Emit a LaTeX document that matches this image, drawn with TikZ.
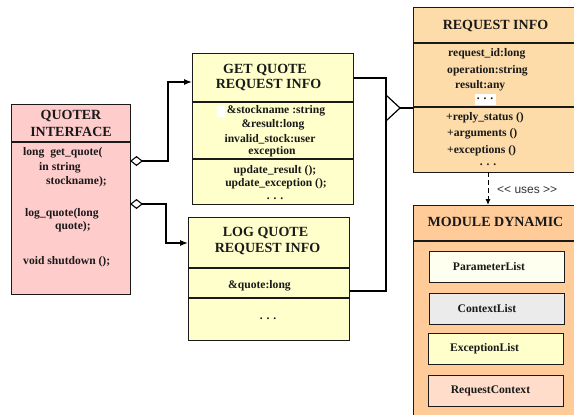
\documentclass[tikz,border=0pt]{standalone}
\usepackage{fontspec}
\setmainfont{Liberation Serif}
\newfontfamily\labelsans{Liberation Sans}
\usetikzlibrary{arrows.meta}
\definecolor{ifacepink}{HTML}{FFCCCC}
\definecolor{reqyellow}{HTML}{FFFFCC}
\definecolor{infoorange}{HTML}{FDDCAA}
\definecolor{modorange}{HTML}{FFCC99}
\definecolor{paramfill}{HTML}{FFFFF0}
\definecolor{ctxfill}{HTML}{EBEBEB}
\definecolor{excfill}{HTML}{FFFFCC}
\definecolor{rctxfill}{HTML}{FFDDCA}
\definecolor{edge}{HTML}{1A1A1A}
\definecolor{usesgray}{HTML}{333333}
\begin{document}
\begin{tikzpicture}[x=1pt,y=-1pt,
  classbox/.style={draw=edge, line width=1.1pt, anchor=north west, inner sep=0pt},
  innerbox/.style={draw=edge, line width=1pt, anchor=north west, inner sep=0pt,
    minimum width=135pt, minimum height=31pt},
  divider/.style={draw=edge, line width=1.1pt},
  head/.style={font=\fontsize{14}{16}\selectfont\bfseries, inner sep=0pt, text=black!90},
  txt/.style={font=\fontsize{11.6}{13}\selectfont\bfseries, inner sep=0pt, text=black!90},
  wire/.style={draw=black, line width=1.2pt},
  agg/.style={wire, {Diamond[open,length=13pt,width=10pt,line width=1.1pt]}-{Latex[length=8pt,width=6pt]}},
  uses/.style={wire, line width=1pt, dash pattern=on 5pt off 3pt, -{Latex[length=6pt,width=5pt]}}
]
\useasboundingbox (0,0) rectangle (574,415);

% ---------- QUOTER INTERFACE ----------
\node[classbox, fill=ifacepink, minimum width=119pt, minimum height=190pt] (quoter) at (11,104) {};
\draw[divider] (quoter.west |- 0,142) -- (quoter.east |- 0,142);
\node[head] (qh1) at (71,116) {QUOTER};
\node[head] (qh2) at (71,132) {INTERFACE};
\node[txt, anchor=west] (qm1) at (23,153) {long\ \ get\_quote(};
\node[txt, anchor=west] (qm2) at (39,168) {in string};
\node[txt, anchor=west] (qm3) at (46,182) {stockname);};
\node[txt, anchor=west] (qm4) at (25,214) {log\_quote(long};
\node[txt, anchor=west] (qm5) at (55,227) {quote);};
\node[txt, anchor=west] (qm6) at (23,262) {void shutdown ();};

% ---------- GET QUOTE REQUEST INFO ----------
\node[classbox, fill=reqyellow, minimum width=161pt, minimum height=151pt] (getq) at (192,53) {};
\draw[divider] (getq.west |- 0,102) -- (getq.east |- 0,102);
\draw[divider] (getq.west |- 0,159) -- (getq.east |- 0,159);
\node[head] (gh1) at (265,70) {GET QUOTE};
\node[head] (gh2) at (268.5,85) {REQUEST INFO};
\fill[white] (217,106) rectangle (225,117);
\node[txt] (ga1) at (276,111) {\&stockname :string};
\node[txt] (ga2) at (273,125) {\&result:long};
\node[txt] (ga3) at (270,139) {invalid\_stock:user};
\node[txt] (ga4) at (272,152) {exception};
\node[txt] (go1) at (275,170.5) {update\_result ();};
\node[txt] (go2) at (276,184) {update\_exception ();};
\node[txt] (go3) at (275,199) {. . .};

% ---------- LOG QUOTE REQUEST INFO ----------
\node[classbox, fill=reqyellow, minimum width=161pt, minimum height=123pt] (logq) at (188,217) {};
\draw[divider] (logq.west |- 0,268) -- (logq.east |- 0,268);
\draw[divider] (logq.west |- 0,298) -- (logq.east |- 0,298);
\node[head] (lh1) at (265.5,233) {LOG QUOTE};
\node[head] (lh2) at (267.5,249) {REQUEST INFO};
\node[txt] (la1) at (259.5,286) {\&quote:long};
\node[txt] (lo1) at (268,319) {. . .};

% ---------- REQUEST INFO ----------
\node[classbox, fill=infoorange, minimum width=165pt, minimum height=165pt] (reqi) at (413,7) {};
\draw[divider] (reqi.west |- 0,43) -- (reqi.east |- 0,43);
\draw[divider] (reqi.west |- 0,107) -- (reqi.east |- 0,107);
\node[head] (rh) at (495.5,26) {REQUEST INFO};
\node[txt, anchor=west] (ra1) at (448,54) {request\_id:long};
\node[txt, anchor=west] (ra2) at (447,71) {operation:string};
\node[txt, anchor=west] (ra3) at (455,86) {result:any};
\fill[white] (475,94) rectangle (496,105);
\node[txt] (ra4) at (485,99) {. . .};
\node[txt, anchor=west] (ro1) at (446,118) {+reply\_status ()};
\node[txt, anchor=west] (ro2) at (447,134) {+arguments ()};
\node[txt, anchor=west] (ro3) at (447,151) {+exceptions ()};
\node[txt] (ro4) at (488,165) {. . .};

% ---------- MODULE DYNAMIC ----------
\node[classbox, fill=modorange, minimum width=165pt, minimum height=215pt] (mod) at (413,205) {};
\draw[divider] (mod.west |- 0,241) -- (mod.east |- 0,241);
\node[head] (mh) at (495.5,222) {MODULE DYNAMIC};
\node[innerbox, fill=paramfill] (param) at (429,251) {};
\node[txt] at (param.center) [xshift=-8pt] (paramt) {ParameterList};
\node[innerbox, fill=ctxfill] (ctx) at (429,293) {};
\node[txt] at (ctx.center) [xshift=-10pt] (ctxt) {ContextList};
\node[innerbox, fill=excfill] (exc) at (428,333) {};
\node[txt] at (exc.center) [xshift=-11.5pt] (exct) {ExceptionList};
\node[innerbox, fill=rctxfill] (rctx) at (428,375) {};
\node[txt] at (rctx.center) [xshift=-5.5pt] (rctxt) {RequestContext};

% ---------- connectors ----------
% aggregation: interface operations to their request-info classes
\coordinate (q1) at (130,161);
\coordinate (k1) at (168,82);
\draw[agg] (q1) -| (k1) -- (k1 -| getq.west);
\coordinate (q2) at (130,204);
\coordinate (k2) at (166,243);
\draw[agg] (q2) -| (k2) -- (k2 -| logq.west);

% generalisation: both request-info classes share REQUEST INFO
\coordinate (j1) at (386,78);
\coordinate (j2) at (386,291);
\coordinate (tip) at (400,108);
\draw[wire, line join=miter] (getq.east |- j1) -- (j1) -- (j2) -- (logq.east |- j2);
\draw[wire, line join=miter] (386,95) -- (tip) -- (386,121);
\draw[wire] (tip) -- (tip -| reqi.west);

% dependency
\coordinate (u1) at (488,172);
\draw[uses] (u1) -- (u1 |- mod.north);
\node[anchor=west, inner sep=0pt, font=\labelsans\fontsize{12}{14}\selectfont, text=usesgray] (usel) at (497,190) {<< uses >>};
\end{tikzpicture}
\end{document}
